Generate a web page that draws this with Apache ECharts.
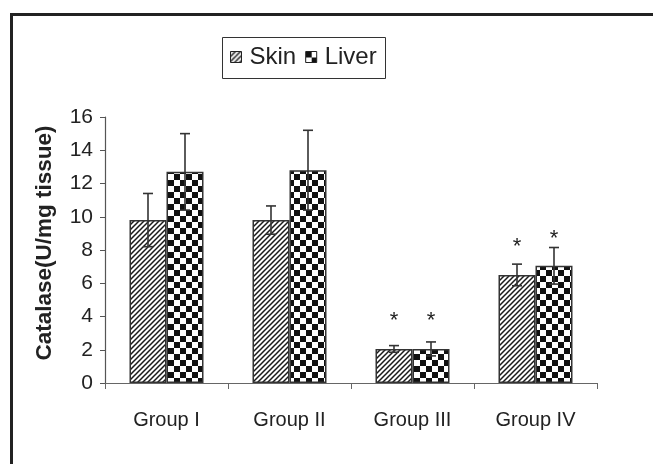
<!DOCTYPE html>
<html><head><meta charset="utf-8">
<script src="https://cdn.jsdelivr.net/npm/echarts@6/dist/echarts.min.js"></script>
<style>html,body{margin:0;padding:0;background:#fff}#c{width:653px;height:464px}</style>
</head><body><div id="c"></div>
<script>
const categories = ['Group I', 'Group II', 'Group III', 'Group IV'];
const skin = [9.8, 9.8, 2.05, 6.5];
const skinErr = [1.6, 0.85, 0.2, 0.65];
const liver = [12.7, 12.8, 2.05, 7.05];
const liverErr = [2.3, 2.4, 0.42, 1.1];
const skinStar = [null, null, 4.0, 8.4];
const liverStar = [null, null, 4.0, 8.9];
const yTicks = [0, 2, 4, 6, 8, 10, 12, 14, 16];
const yTitle = 'Catalase(U/mg tissue)';

function hatch() {
  const c = document.createElement('canvas'); c.width = c.height = 5;
  const x = c.getContext('2d');
  x.fillStyle = '#fff'; x.fillRect(0, 0, 5, 5);
  x.strokeStyle = '#1a1a1a'; x.lineWidth = 1.5;
  x.beginPath();
  x.moveTo(-1, 6); x.lineTo(6, -1);
  x.moveTo(-1, 1); x.lineTo(1, -1);
  x.moveTo(4, 6); x.lineTo(6, 4);
  x.stroke();
  return c;
}
function checker() {
  const c = document.createElement('canvas'); c.width = c.height = 12;
  const x = c.getContext('2d');
  x.fillStyle = '#fff'; x.fillRect(0, 0, 12, 12);
  x.fillStyle = '#111';
  x.fillRect(0, 0, 6, 6); x.fillRect(6, 6, 6, 6);
  return c;
}
const skinFill = { image: hatch(), repeat: 'repeat' };
const liverFill = { image: checker(), repeat: 'repeat' };

const BW = 37;
function errSeries(vals, errs, offset) {
  return {
    type: 'custom', silent: true, z: 5,
    data: vals.map((v, i) => [i, v - errs[i], v + errs[i]]),
    encode: { x: 0, y: [1, 2] },
    renderItem: function (params, api) {
      const i = api.value(0);
      const lo = api.coord([i, api.value(1)]);
      const hi = api.coord([i, api.value(2)]);
      const x = lo[0] + offset;
      const cw = 5;
      const st = { stroke: '#333', lineWidth: 1.6 };
      return { type: 'group', children: [
        { type: 'line', shape: { x1: x, y1: lo[1], x2: x, y2: hi[1] }, style: st },
        { type: 'line', shape: { x1: x - cw, y1: hi[1], x2: x + cw, y2: hi[1] }, style: st },
        { type: 'line', shape: { x1: x - cw, y1: lo[1], x2: x + cw, y2: lo[1] }, style: st }
      ]};
    }
  };
}
function starSeries(vals, offset) {
  return {
    type: 'custom', silent: true, z: 6,
    data: vals.map((v, i) => v == null ? [i, '-'] : [i, v]),
    encode: { x: 0, y: 1 },
    renderItem: function (params, api) {
      if (isNaN(api.value(1))) return null;
      const p = api.coord([api.value(0), api.value(1)]);
      return { type: 'text', x: p[0] + offset, y: p[1] + 4,
        style: { text: '*', fontSize: 22, fontFamily: 'Liberation Sans, Arial', fill: '#222', align: 'center', verticalAlign: 'middle' } };
    }
  };
}

const chart = echarts.init(document.getElementById('c'), null, { renderer: 'canvas' });
chart.setOption({
  animation: false,
  backgroundColor: '#fff',
  textStyle: { fontFamily: 'Liberation Sans, Arial, sans-serif', color: '#222' },
  grid: { left: 105, right: 56, top: 117, bottom: 81, containLabel: false },
  graphic: [
    { type: 'rect', shape: { x: 10, y: 13, width: 3, height: 460 }, style: { fill: '#222' }, z: 10 },
    { type: 'rect', shape: { x: 10, y: 13, width: 650, height: 3 }, style: { fill: '#222' }, z: 10 },
    { type: 'rect', shape: { x: 222.5, y: 37.5, width: 163, height: 41 }, style: { fill: '#fff', stroke: '#333', lineWidth: 1 }, z: 0 },
    { type: 'text', x: 45, y: 243, rotation: Math.PI / 2, z: 10,
      style: { text: yTitle, fontSize: 22.5, fontWeight: 'bold', fontFamily: 'Liberation Sans, Arial', fill: '#222', align: 'center', verticalAlign: 'middle' } }
  ],
  legend: {
    data: ['Skin', 'Liver'], left: 230, top: 45,
    itemWidth: 11, itemHeight: 11, itemGap: 9, icon: 'rect',
    padding: 0,
    itemStyle: { borderColor: '#222', borderWidth: 1 },
    textStyle: { fontSize: 24, color: '#222', fontFamily: 'Liberation Sans, Arial', padding: [0, 0, 0, 3] },
    z: 5
  },
  xAxis: {
    type: 'category', data: categories,
    axisLine: { lineStyle: { color: '#666', width: 1.2 } },
    axisTick: { show: true, length: 6, lineStyle: { color: '#666' } },
    axisLabel: { fontSize: 20, color: '#222', margin: 27 }
  },
  yAxis: {
    type: 'value', min: 0, max: 16, interval: 2,
    axisLine: { show: true, lineStyle: { color: '#555', width: 1.2 } },
    axisTick: { show: true, length: 5, lineStyle: { color: '#555' } },
    axisLabel: { fontSize: 21, color: '#222', margin: 12, customValues: yTicks },
    splitLine: { show: false }
  },
  series: [
    { name: 'Skin', type: 'bar', data: skin, barWidth: BW, barGap: '0%',
      itemStyle: { color: skinFill, borderColor: '#333', borderWidth: 1.5 } },
    { name: 'Liver', type: 'bar', data: liver, barWidth: BW, barGap: '0%',
      itemStyle: { color: liverFill, borderColor: '#333', borderWidth: 1.5 } },
    errSeries(skin, skinErr, -BW / 2),
    errSeries(liver, liverErr, BW / 2),
    starSeries(skinStar, -BW / 2),
    starSeries(liverStar, BW / 2)
  ]
});
</script></body></html>
